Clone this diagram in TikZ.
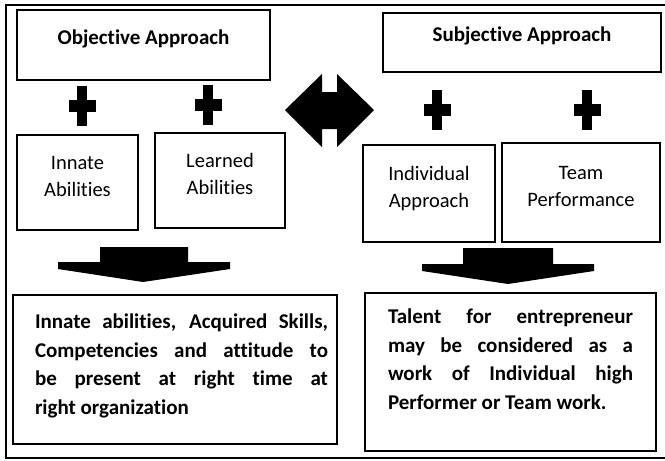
\documentclass[tikz,border=0pt]{standalone}
\usepackage{fontspec}
\setmainfont{Carlito}[Ligatures={NoCommon,NoContextual}]
\tikzset{
blk/.style={draw, line width=2.6pt, inner sep=0pt},
headbox/.style={blk, font=\fontsize{21}{26}\selectfont\bfseries, text height=15pt, text depth=17pt},
abilbox/.style={blk, align=center, font=\fontsize{20.5}{27}\selectfont, text depth=13pt},
sumtext/.style={anchor=north, inner sep=0pt, align=justify, font=\fontsize{21}{28.5}\selectfont\bfseries},
plussign/.pic={\fill (-5,-20) rectangle (5,20); \fill (-13.5,-6) rectangle (13.5,6);}
}
\begin{document}
\begin{tikzpicture}[x=1pt, y=-1pt]
\useasboundingbox (0,0) rectangle (665,461);
\clip (0,0) rectangle (665,461);
\draw[line width=2.5pt] (6,5) rectangle (675,458);
\node[headbox, minimum width=253pt, minimum height=70pt] (objhead) at (143.5,45) {Objective Approach};
\node[headbox, minimum width=278pt, minimum height=59pt] (subhead) at (522,42.5) {Subjective Approach};
\pic at (82,106) {plussign};
\pic at (208,105) {plussign};
\pic at (437,110) {plussign};
\pic at (587,110) {plussign};
\fill (285,110) -- (322,74) -- (322,92) -- (337,92) -- (337,74) -- (374,110) -- (337,147) -- (337,129) -- (322,129) -- (322,147) -- cycle;
\node[abilbox, minimum width=121pt, minimum height=95pt] (innate) at (77.5,182.5) {Innate\\Abilities};
\node[abilbox, minimum width=130pt, minimum height=95pt] (learned) at (220,180.5) {Learned\\Abilities};
\node[abilbox, minimum width=132pt, minimum height=97pt] (indiv) at (429,193.5) {Individual\\Approach};
\node[abilbox, minimum width=158pt, minimum height=99pt] (team) at (581,192.5) {Team\\Performance};
\fill (100,247) -- (188,247) -- (188,262) -- (230,262) -- (230,269) -- (143,282) -- (58,269) -- (58,262) -- (100,262) -- cycle;
\fill (463,248) -- (553,248) -- (553,264) -- (594,264) -- (594,271) -- (508,284) -- (422,271) -- (422,264) -- (463,264) -- cycle;
\node[blk, minimum width=324pt, minimum height=149pt] (objsum) at (175,369.5) {};
\node[blk, minimum width=291pt, minimum height=158pt] (subsum) at (510.5,372) {};
\node[sumtext, text width=293pt] (objtext) at (181.5,314) {Innate abilities, Acquired Skills,\linebreak Competencies and attitude to\linebreak be present at right time at\linebreak right organization};
\node[sumtext, text width=245pt] (subtext) at (510.5,309) {Talent for entrepreneur\linebreak may be considered as a\linebreak work of Individual high\linebreak Performer or Team work.};
\end{tikzpicture}
\end{document}
